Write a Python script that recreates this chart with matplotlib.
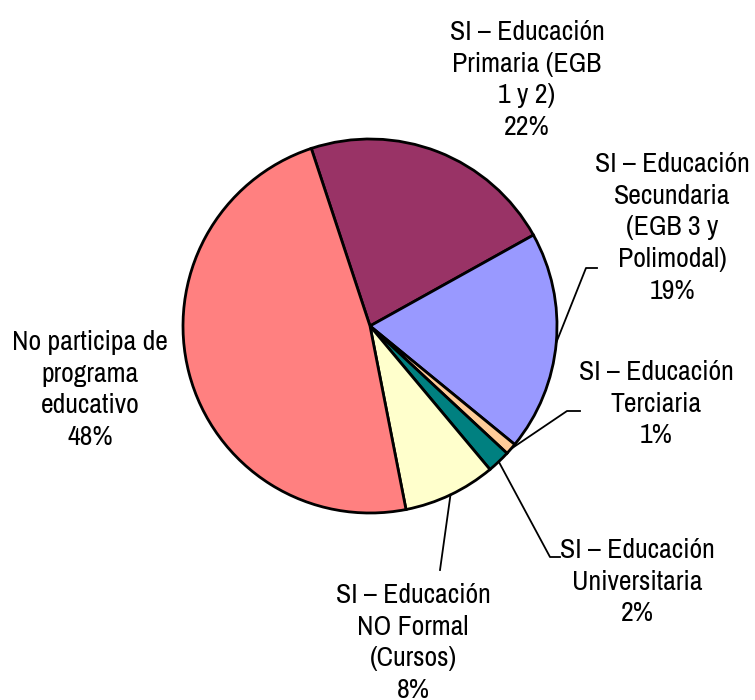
import numpy as np
import matplotlib.pyplot as plt
from matplotlib import font_manager

labels = ["SI – Educación\nPrimaria (EGB\n1 y 2)",
          "SI – Educación\nSecundaria\n(EGB 3 y\nPolimodal)",
          "SI – Educación\nTerciaria",
          "SI – Educación\nUniversitaria",
          "SI – Educación\nNO Formal\n(Cursos)",
          "No participa de\nprograma\neducativo"]
values = [22, 19, 1, 2, 8, 48]
colors = ["#993366", "#9999FF", "#FFCC99", "#008080", "#FFFFCC", "#FF8080"]

# label centres and leader elbows, in pixels (y down)
label_pos = [(527, 80), (672, 228), (656, 404), (637, 582), (413, 643), (90, 390)]
elbows = [None, [(586, 268), (597, 268)], [(567, 411), (580, 411)],
          [(550, 557), (560, 557)], [(440, 570)], None]

W, H = 755, 700
cx, cy, r = 370, 326, 187
start = 108.3

# look for a narrow face (Arial Narrow look-alike)
narrow = None
for f in font_manager.fontManager.ttflist:
    if "Narrow" in f.name and f.style == "normal" and f.weight == 400:
        narrow = f.name
        break
stretch = "normal"
if narrow is None:
    for f in font_manager.fontManager.ttflist:
        if f.name == "DejaVu Sans" and f.stretch == "condensed":
            stretch = "condensed"
            break
fam = [narrow] if narrow else ["DejaVu Sans"]
plt.rcParams['font.family'] = fam + ['DejaVu Sans']

fig = plt.figure(figsize=(W / 100, H / 100), dpi=100)
ax = fig.add_axes([0, 0, 1, 1])
ax.pie(values, colors=colors, startangle=start, counterclock=False,
       center=(cx, H - cy), radius=r, frame=True,
       wedgeprops=dict(edgecolor="black", linewidth=2))
ax.set_xlim(0, W)
ax.set_ylim(0, H)
ax.set_aspect("equal")
ax.axis("off")

fs = 20 if narrow else 16
tot = sum(values)
acc = 0
for lab, v, pos, elb in zip(labels, values, label_pos, elbows):
    mid = start - 360 * (acc + v / 2) / tot
    acc += v
    ax.text(pos[0], H - pos[1], f"{lab}\n{round(100 * v / tot)}%",
            ha="center", va="center", fontsize=fs, linespacing=1.33,
            fontstretch=stretch, color="black")
    if elb:
        x0 = cx + r * np.cos(np.radians(mid))
        y0 = H - cy + r * np.sin(np.radians(mid))
        xs = [x0] + [p[0] for p in elb]
        ys = [y0] + [H - p[1] for p in elb]
        ax.plot(xs, ys, color="black", lw=1.3)

fig.savefig("out.png", dpi=100)
